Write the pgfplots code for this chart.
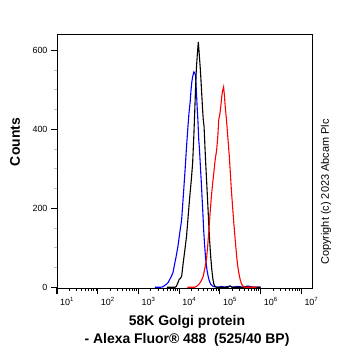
\documentclass[border=0pt]{standalone}
\usepackage{fontspec}
\setmainfont{Liberation Sans}
\usepackage{pgfplots}
\pgfplotsset{compat=1.18}
\begin{document}
\begin{tikzpicture}
\path[use as bounding box] (0bp,0bp) rectangle (362bp,351bp);
\begin{axis}[
  at={(57bp,63bp)}, anchor=south west,
  width=255bp, height=254bp, scale only axis,
  xmin=1, xmax=7.26, ymin=-2, ymax=641,
  axis line style={line width=0.9bp},
  tick align=outside, xtick pos=bottom, ytick pos=left,
  xtick={1,2,3,4,5,6,7},
  xticklabels={10\textsuperscript{1},10\textsuperscript{2},10\textsuperscript{3},10\textsuperscript{4},10\textsuperscript{5},10\textsuperscript{6},10\textsuperscript{7}},
  minor xtick={1.301,1.477,1.602,1.699,1.778,1.845,1.903,1.954,
               2.301,2.477,2.602,2.699,2.778,2.845,2.903,2.954,
               3.301,3.477,3.602,3.699,3.778,3.845,3.903,3.954,
               4.301,4.477,4.602,4.699,4.778,4.845,4.903,4.954,
               5.301,5.477,5.602,5.699,5.778,5.845,5.903,5.954,
               6.301,6.477,6.602,6.699,6.778,6.845,6.903,6.954},
  ytick={0,200,400,600},
  minor ytick={50,100,150,250,300,350,450,500,550,650},
  major tick length=6bp, minor tick length=3bp,
  major tick style={line width=1.1bp, black},
  minor x tick style={line width=0.7bp, black},
  minor y tick style={line width=0.6bp, black!25},
  xticklabel style={font=\fontsize{9}{10}\selectfont, xshift=10bp},
  yticklabel style={font=\fontsize{9}{10}\selectfont},
  /pgf/number format/assume math mode=true,
  clip=true,
]
% blue
\addplot[blue, line width=1.1bp] coordinates {
(3.40,0)(3.55,0)(3.60,1)(3.65,5)(3.69,8)(3.73,12)(3.77,20)(3.81,28)(3.85,38)(3.88,55)(3.92,75)(3.97,104)(4.01,135)(4.06,171)(4.10,230)(4.14,290)(4.18,356)(4.21,400)(4.24,441)(4.27,470)(4.29,499)(4.31,520)(4.33,533)(4.36,545)(4.38,542)(4.40,537)(4.42,500)(4.44,457)(4.46,420)(4.48,373)(4.50,345)(4.52,306)(4.54,270)(4.56,230)(4.58,190)(4.60,146)(4.62,112)(4.65,71)(4.68,45)(4.71,28)(4.74,16)(4.77,8)(4.82,3)(4.87,1)(4.95,0)(5.05,2)(5.10,0)(5.25,3)(5.30,0)(5.45,2)(5.55,0)(5.70,3)(5.80,0)(6.0,0)
};
% black
\addplot[black, line width=1.1bp] coordinates {
(3.70,0)(3.90,0)(3.93,2)(3.97,12)(4.00,20)(4.03,22)(4.06,28)(4.10,63)(4.14,95)(4.18,129)(4.22,180)(4.26,230)(4.30,275)(4.33,315)(4.36,385)(4.38,441)(4.40,500)(4.42,550)(4.445,590)(4.47,621)(4.495,585)(4.52,550)(4.545,505)(4.57,457)(4.59,425)(4.61,407)(4.63,360)(4.65,315)(4.675,265)(4.70,214)(4.725,160)(4.75,113)(4.775,75)(4.80,45)(4.825,22)(4.85,8)(4.88,2)(4.92,0)(5.2,0)(5.25,3)(5.3,0)(5.6,0)(5.65,2)(5.7,0)(6.0,0)
};
% red
\addplot[red, line width=1.1bp] coordinates {
(4.20,0)(4.38,0)(4.44,3)(4.49,8)(4.54,16)(4.59,28)(4.63,48)(4.67,71)(4.70,105)(4.73,146)(4.76,190)(4.79,230)(4.82,262)(4.85,290)(4.88,320)(4.92,348)(4.95,385)(4.97,423)(5.00,440)(5.02,457)(5.04,478)(5.06,495)(5.09,507)(5.11,485)(5.13,457)(5.155,430)(5.18,398)(5.205,365)(5.23,331)(5.255,290)(5.28,247)(5.31,205)(5.34,163)(5.375,120)(5.41,79)(5.435,55)(5.46,38)(5.495,20)(5.53,8)(5.57,2)(5.61,0)(5.9,0)
};
\end{axis}
\node[rotate=90, font=\bfseries\fontsize{14}{16}\selectfont] at (15bp,209bp) {Counts};
\node[font=\bfseries\fontsize{14}{16}\selectfont] at (187bp,29bp) {58K Golgi protein};
\node[font=\bfseries\fontsize{14}{16}\selectfont] at (187bp,11bp) {- Alexa Fluor\textregistered\ 488\ \ (525/40 BP)};
\node[rotate=90, font=\fontsize{11}{12}\selectfont] at (326bp,159bp) {Copyright (c) 2023 Abcam Plc};
\end{tikzpicture}
\end{document}
